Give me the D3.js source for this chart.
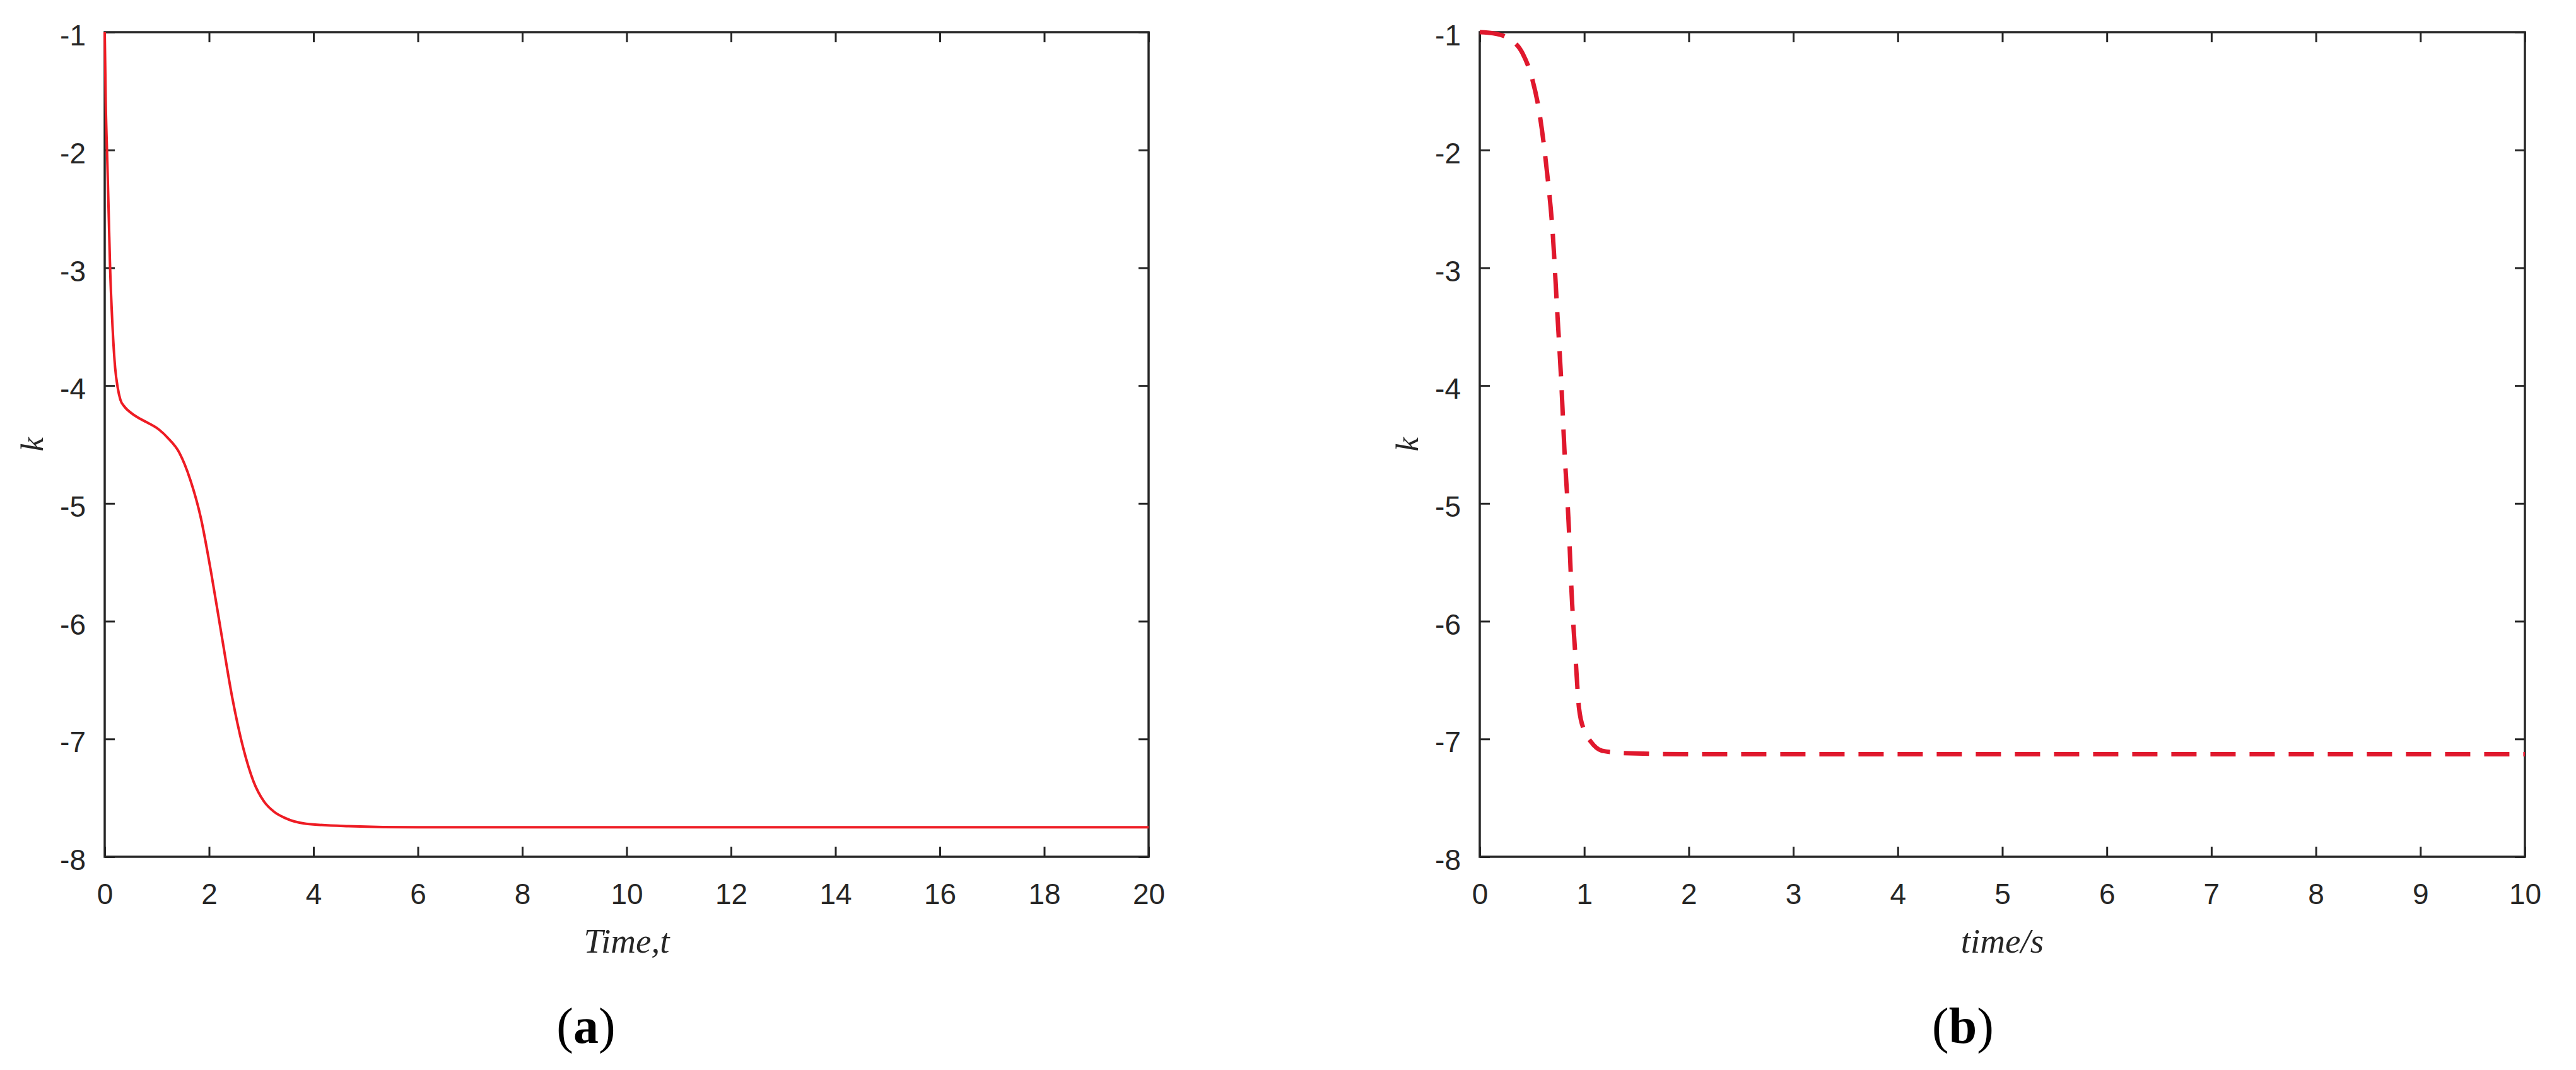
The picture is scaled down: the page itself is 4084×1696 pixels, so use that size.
<!DOCTYPE html>
<html>
<head>
<meta charset="utf-8">
<script src="https://cdn.jsdelivr.net/npm/d3@7"></script>
<style>
  html, body { margin: 0; padding: 0; background: #fff; }
  svg { display: block; }
</style>
</head>
<body>
<script>
// ---- Data ----
const aTime = [0, 0.02, 0.05, 0.08, 0.1, 0.15, 0.2, 0.25, 0.3, 0.38, 0.5, 0.63, 0.8, 1.03, 1.2, 1.43, 1.64, 1.84, 2.04, 2.24, 2.44, 2.65, 2.85, 3.05, 3.25, 3.45, 3.86, 4.67, 6, 10, 20];
const aK    = [-1, -1.6, -2.1, -2.6, -2.95, -3.5, -3.85, -4.02, -4.12, -4.18, -4.23, -4.27, -4.31, -4.37, -4.44, -4.57, -4.80, -5.12, -5.59, -6.12, -6.64, -7.07, -7.36, -7.53, -7.62, -7.67, -7.72, -7.74, -7.75, -7.75, -7.75];

const bTime = [0, 0.13, 0.29, 0.41, 0.5, 0.57, 0.64, 0.70, 0.74, 0.78, 0.81, 0.85, 0.88, 0.92, 0.95, 1.0, 1.06, 1.17, 1.38, 2, 5, 10];
const bK    = [-1, -1.01, -1.06, -1.18, -1.39, -1.68, -2.16, -2.73, -3.35, -3.97, -4.54, -5.16, -5.78, -6.36, -6.74, -6.93, -7.02, -7.10, -7.12, -7.13, -7.13, -7.13];

const aXTicks = [0, 2, 4, 6, 8, 10, 12, 14, 16, 18, 20];
const bXTicks = [0, 1, 2, 3, 4, 5, 6, 7, 8, 9, 10];
const yTicks  = [-1, -2, -3, -4, -5, -6, -7, -8];

const W = 4084, H = 1696;
const svg = d3.select("body").append("svg").attr("width", W).attr("height", H);

const axisColor = "#262626";

function panel(cfg) {
  const x = d3.scaleLinear().domain(cfg.xDomain).range([cfg.left, cfg.right]);
  const y = d3.scaleLinear().domain([-8, -1]).range([cfg.bottom, cfg.top]);
  const g = svg.append("g");

  const tickStyle = sel => {
    sel.select(".domain").remove();
    sel.selectAll(".tick line").attr("stroke", axisColor).attr("stroke-width", 3);
  };

  const gb = g.append("g").attr("transform", `translate(0,${cfg.bottom})`)
    .call(d3.axisBottom(x).tickValues(cfg.xTicks).tickSize(-16).tickPadding(0).tickFormat(d3.format("d")));
  tickStyle(gb);
  gb.selectAll(".tick text").attr("y", 75).attr("dy", 0)
    .attr("font-family", "Liberation Sans, Arial, sans-serif").attr("font-size", 46).attr("fill", axisColor);

  const gt = g.append("g").attr("transform", `translate(0,${cfg.top})`)
    .call(d3.axisTop(x).tickValues(cfg.xTicks).tickSize(-16).tickFormat(""));
  tickStyle(gt);

  const gl = g.append("g").attr("transform", `translate(${cfg.left},0)`)
    .call(d3.axisLeft(y).tickValues(yTicks).tickSize(-16).tickFormat(d3.format("d")));
  tickStyle(gl);
  gl.selectAll(".tick text").attr("x", -30).attr("dy", "0.45em")
    .attr("font-family", "Liberation Sans, Arial, sans-serif").attr("font-size", 46).attr("fill", axisColor);
  gl.selectAll(".tick text").text(d => "-" + Math.abs(d));

  const gr = g.append("g").attr("transform", `translate(${cfg.right},0)`)
    .call(d3.axisRight(y).tickValues(yTicks).tickSize(-16).tickFormat(""));
  tickStyle(gr);

  g.append("rect")
    .attr("x", cfg.left).attr("y", cfg.top)
    .attr("width", cfg.right - cfg.left).attr("height", cfg.bottom - cfg.top)
    .attr("fill", "none").attr("stroke", axisColor).attr("stroke-width", 3.5);

  const data = cfg.xs.map((t, i) => [t, cfg.ys[i]]);
  const line = d3.line().x(d => x(d[0])).y(d => y(d[1])).curve(d3.curveMonotoneX);
  const path = g.append("path").datum(data)
    .attr("d", line)
    .attr("fill", "none")
    .attr("stroke", cfg.color)
    .attr("stroke-width", cfg.width)
    .attr("stroke-linejoin", "round");
  if (cfg.dash) path.attr("stroke-dasharray", cfg.dash);

  g.append("text")
    .attr("x", (cfg.left + cfg.right) / 2).attr("y", 1510)
    .attr("text-anchor", "middle")
    .attr("font-family", "Liberation Serif, Times New Roman, serif")
    .attr("font-style", "italic").attr("font-size", 55).attr("fill", axisColor)
    .text(cfg.xLabel);

  g.append("text")
    .attr("transform", `translate(${cfg.left - 98},${(cfg.top + cfg.bottom) / 2}) rotate(-90)`)
    .attr("text-anchor", "middle")
    .attr("font-family", "Liberation Serif, Times New Roman, serif")
    .attr("font-style", "italic").attr("font-size", 50).attr("fill", axisColor)
    .text("k");

  const cap = svg.append("text")
    .attr("x", cfg.capX).attr("y", 1653)
    .attr("text-anchor", "middle")
    .attr("font-family", "Liberation Serif, Times New Roman, serif")
    .attr("font-size", 80).attr("fill", "#000");
  cap.append("tspan").text("(");
  cap.append("tspan").attr("font-weight", "bold").text(cfg.capLetter);
  cap.append("tspan").text(")");
}

panel({
  left: 166, right: 1821, top: 51, bottom: 1358,
  xDomain: [0, 20], xTicks: aXTicks,
  xs: aTime, ys: aK, color: "#ee1c24", width: 4,
  xLabel: "Time,t", capX: 929, capLetter: "a"
});

panel({
  left: 2346, right: 4003, top: 51, bottom: 1358,
  xDomain: [0, 10], xTicks: bXTicks,
  xs: bTime, ys: bK, color: "#e0182d", width: 7, dash: "40,22",
  xLabel: "time/s", capX: 3112, capLetter: "b"
});
</script>
</body>
</html>
